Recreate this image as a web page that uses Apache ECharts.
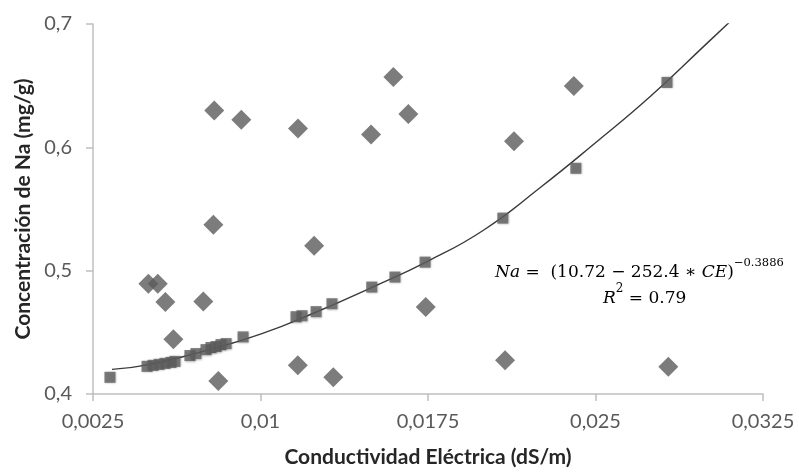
<!DOCTYPE html>
<html>
<head>
<meta charset="utf-8">
<script src="https://cdn.jsdelivr.net/npm/echarts@6/dist/echarts.min.js"></script>
<style>html,body{margin:0;padding:0;background:#fff}#c{width:799px;height:473px}</style>
</head>
<body>
<div id="c"></div>
<script>
// Observed values (diamonds)
var obsX = [0.00498,0.0054,0.00574,0.0061,0.00744,0.00789,0.00793,0.00811,0.00914,0.01167,0.01168,0.0124,0.01326,0.01495,0.01595,0.01662,0.0174,0.02095,0.02135,0.02403,0.02826];
var obsY = [0.4893,0.4893,0.4746,0.4444,0.4751,0.5372,0.6298,0.4105,0.6223,0.4234,0.6153,0.5203,0.4135,0.6104,0.657,0.6271,0.4705,0.4274,0.605,0.6497,0.4221];
// Predicted values (squares)
var predX = [0.00326,0.00492,0.00519,0.00546,0.00572,0.00599,0.00617,0.00684,0.00711,0.00756,0.00778,0.00801,0.00823,0.00846,0.00922,0.01159,0.01186,0.01249,0.0132,0.01498,0.01602,0.01737,0.02085,0.02412,0.0282];
var predY = [0.4135,0.4224,0.4232,0.424,0.4248,0.4256,0.4264,0.4312,0.4328,0.436,0.4377,0.4385,0.4401,0.4409,0.4463,0.4627,0.4635,0.4668,0.4732,0.4867,0.4948,0.5069,0.5426,0.583,0.6526];
// Trend curve
var curveX = [0.00335,0.005,0.0075,0.01,0.0125,0.015,0.0175,0.02,0.0225,0.025,0.0275,0.03,0.0311];
var curveY = [0.4200,0.4238,0.4350,0.4485,0.4665,0.4865,0.5078,0.5330,0.5670,0.6037,0.6420,0.6845,0.7032];
var xTicks = [0.0025,0.01,0.0175,0.025,0.0325];
var yTicks = [0.4,0.5,0.6,0.7];

function zip(a,b){return a.map(function(v,i){return [v,b[i]];});}
function fmt(v){return String(+v.toFixed(4)).replace('.',',');}

var chart = echarts.init(document.getElementById('c'), null, {renderer:'canvas'});
var axisCol = '#bfbfbf';
var labCol = '#595959';
var eqRich = {
  i:{fontFamily:'DejaVu Serif',fontStyle:'italic',fontSize:17,lineHeight:24,verticalAlign:'bottom',fill:'#000'},
  n:{fontFamily:'DejaVu Serif',fontSize:17,lineHeight:24,verticalAlign:'bottom',fill:'#000'},
  s:{fontFamily:'DejaVu Serif',fontSize:11.5,lineHeight:13,verticalAlign:'top',fill:'#000'},
  s2:{fontFamily:'DejaVu Serif',fontSize:12,lineHeight:17,verticalAlign:'top',fill:'#000'}
};
chart.setOption({
  animation:false,
  grid:{left:93,right:36,top:24,bottom:77},
  xAxis:{
    type:'value',min:0.0025,max:0.0325,interval:0.0075,
    name:'Conductividad Eléctrica (dS/m)',nameLocation:'middle',nameGap:53,
    nameTextStyle:{fontFamily:'Lato',fontWeight:'bold',fontSize:21,color:'#262626'},
    axisLine:{show:true,lineStyle:{color:axisCol,width:1.5}},
    axisTick:{show:true,length:7,lineStyle:{color:axisCol,width:1.5}},
    splitLine:{show:false},
    axisLabel:{margin:18,fontFamily:'Lato',fontSize:20,color:labCol,formatter:fmt}
  },
  yAxis:{
    type:'value',min:0.4,max:0.7,interval:0.1,
    name:'Concentración de Na (mg/g)',nameLocation:'middle',nameGap:56,
    nameTextStyle:{fontFamily:'Lato',fontWeight:'bold',fontSize:21,color:'#262626'},
    axisLine:{show:true,lineStyle:{color:axisCol,width:1.5}},
    axisTick:{show:true,length:7,lineStyle:{color:axisCol,width:1.5}},
    splitLine:{show:false},
    axisLabel:{margin:21,fontFamily:'Lato',fontSize:20,color:labCol,formatter:fmt}
  },
  series:[
    {type:'line',data:zip(curveX,curveY),smooth:true,symbol:'none',
     lineStyle:{color:'#3a3a3a',width:1.4},z:3},
    {type:'scatter',data:zip(obsX,obsY),symbol:'diamond',symbolSize:[20,20],
     itemStyle:{color:'#5b5b5b'},z:2},
    {type:'scatter',data:zip(predX,predY),symbol:'rect',symbolSize:11,
     itemStyle:{color:'#626262',shadowColor:'rgba(0,0,0,0.35)',shadowBlur:2,shadowOffsetX:0.5,shadowOffsetY:0.5},z:4}
  ],
  graphic:[
    {type:'text',left:495,top:257,
     style:{text:'{i|Na}{n| =  (10.72 − 252.4 ∗ }{i|CE}{n|)}{s|−0.3886}',rich:eqRich}},
    {type:'text',left:603,top:283,
     style:{text:'{i|R}{s2|2}{n| = 0.79}',rich:eqRich}}
  ]
});
</script>
</body>
</html>
